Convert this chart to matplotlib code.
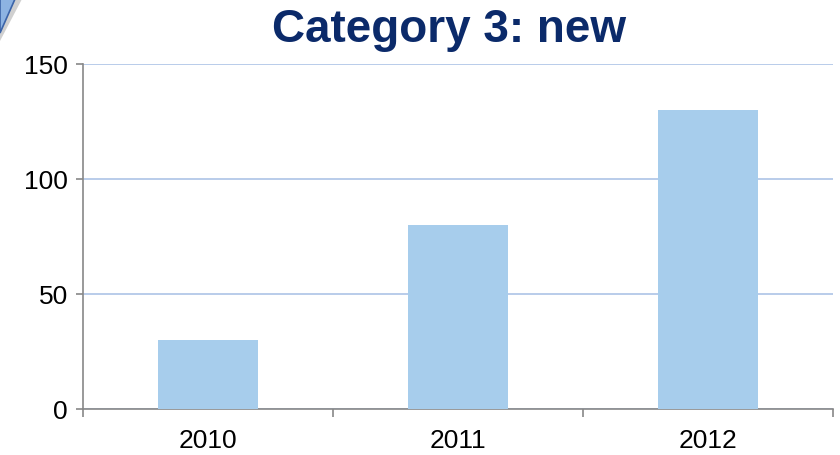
import matplotlib
matplotlib.use("Agg")
import matplotlib.pyplot as plt
from matplotlib.patches import Polygon

years = ["2010", "2011", "2012"]
values = [30, 80, 130]
y_ticks = [0, 50, 100, 150]

plt.rcParams['font.family'] = ['Liberation Sans', 'DejaVu Sans']

fig = plt.figure(figsize=(8.4, 4.56), dpi=100)
ax = fig.add_axes([0.0988, 0.1009, 0.8929, 0.7566])

x = list(range(len(years)))
ax.bar(x, values, width=0.4, color="#A7CDEC", zorder=3)

ax.set_xlim(-0.5, len(years) - 0.5)
ax.set_ylim(0, 150)
ax.set_yticks(y_ticks)
ax.set_xticks(x)
ax.set_xticklabels(years)
ax.tick_params(axis="both", labelsize=19, colors="#888888", labelcolor="black",
               length=5, width=1.2)
ax.tick_params(axis="y", pad=6)
ax.tick_params(axis="x", length=0, pad=14)
# category boundary ticks on x axis
ax.set_xticks([i - 0.5 for i in range(len(years) + 1)], minor=True)
ax.tick_params(axis="x", which="minor", length=6, width=1.2, color="#888888", direction="out")

ax.yaxis.grid(True, color="#B3C8E8", linewidth=1.3, zorder=0)
for side in ["top", "right"]:
    ax.spines[side].set_visible(False)
for side in ["left", "bottom"]:
    ax.spines[side].set_color("#888888")
    ax.spines[side].set_linewidth(1.2)

fig.text(0.535, 0.934, "Category 3: new", ha="center", va="center",
         fontsize=33, fontweight="bold", color="#0B2A6A")

# corner decoration
shadow = Polygon([(0, 1), (22 / 840, 1), (0, 1 - 42 / 456)], closed=True,
                 transform=fig.transFigure, facecolor="#D0D0D0", edgecolor="none")
fig.patches.append(shadow)
tri = Polygon([(0, 1), (15 / 840, 1), (0, 1 - 34 / 456)], closed=True,
              transform=fig.transFigure, facecolor="#8DB3E2", edgecolor="#3C64A8",
              linewidth=1.2)
fig.patches.append(tri)

fig.savefig("out.png", dpi=100)
